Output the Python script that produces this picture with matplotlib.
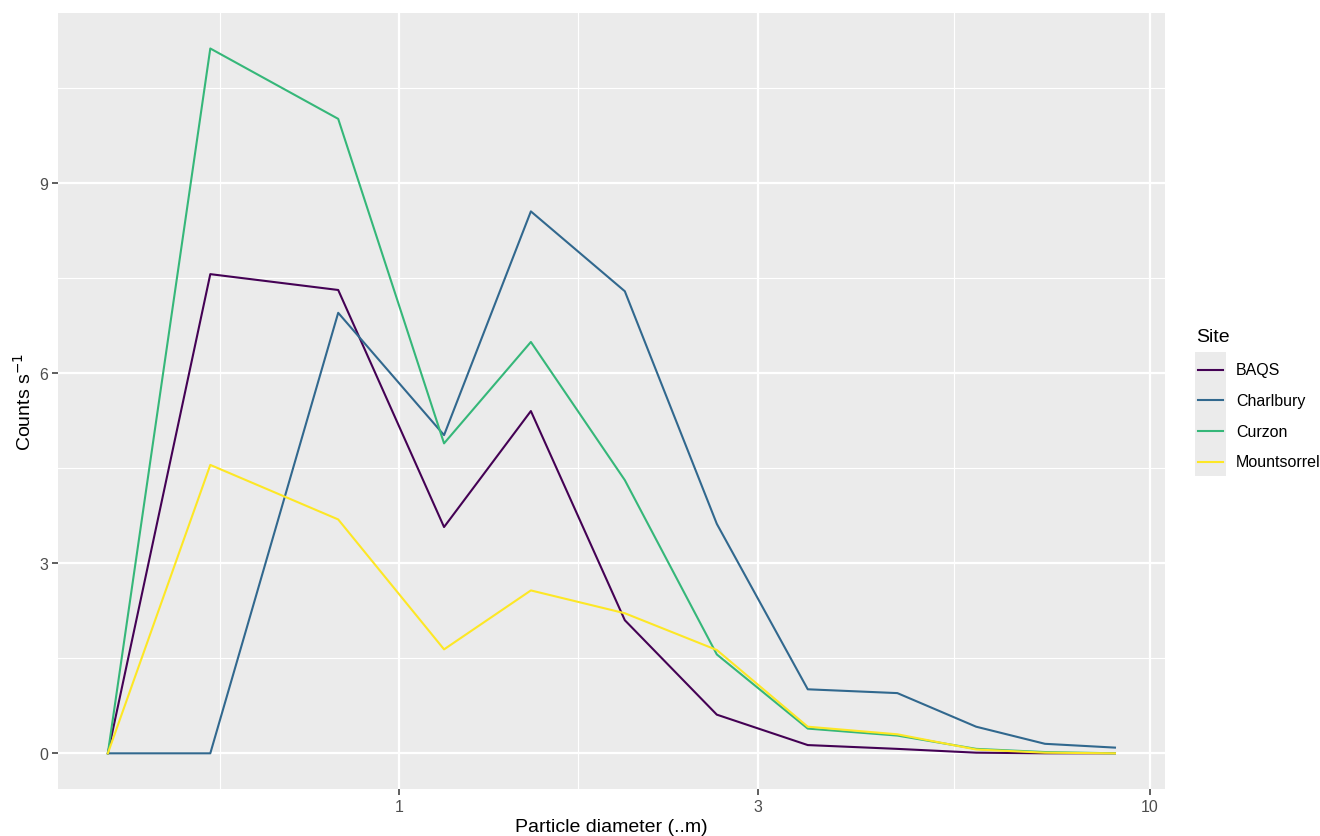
import matplotlib
matplotlib.use("Agg")
import matplotlib.pyplot as plt
from matplotlib.patches import Rectangle
from matplotlib.lines import Line2D

plt.rcParams["font.family"] = ["Liberation Sans", "DejaVu Sans"]

# particle diameter bins (um)
diameter = [0.409, 0.560, 0.829, 1.147, 1.497, 1.997, 2.648, 3.50, 4.607, 5.866, 7.245, 8.98]

sites = ["BAQS", "Charlbury", "Curzon", "Mountsorrel"]
baqs = [0, 7.56, 7.31, 3.57, 5.40, 2.10, 0.61, 0.13, 0.07, 0.01, 0.0, 0.0]
charlbury = [0, 0.0, 6.95, 5.02, 8.55, 7.29, 3.62, 1.01, 0.95, 0.42, 0.15, 0.09]
curzon = [0, 11.12, 10.01, 4.89, 6.49, 4.31, 1.56, 0.39, 0.28, 0.07, 0.02, 0.0]
mountsorrel = [0, 4.55, 3.69, 1.64, 2.57, 2.21, 1.63, 0.42, 0.30, 0.06, 0.01, 0.0]
colours = ["#440154", "#31688E", "#35B779", "#FDE725"]

W, H = 1320, 837
fig = plt.figure(figsize=(W / 100, H / 100), dpi=100)
ax = fig.add_axes([58 / W, 1 - 790 / H, 1107 / W, 776 / H])
ax.set_facecolor("#EBEBEB")

for name, vals, col in zip(sites, [baqs, charlbury, curzon, mountsorrel], colours):
    ax.plot(diameter, vals, color=col, lw=1.5, label=name, zorder=3)

ax.set_xscale("log")
ax.set_xlim(0.351, 10.47)
ax.set_ylim(-0.563, 11.68)

ax.set_xticks([1, 3, 10])
ax.set_xticklabels(["1", "3", "10"])
ax.set_xticks([10 ** -0.2386, 10 ** 0.2386, 10 ** 0.7386], minor=True)
ax.xaxis.set_minor_formatter(matplotlib.ticker.NullFormatter())
ax.set_yticks([0, 3, 6, 9])
ax.set_yticks([1.5, 4.5, 7.5, 10.5], minor=True)

ax.grid(which="major", color="white", lw=1.6)
ax.grid(which="minor", color="white", lw=0.8)
ax.set_axisbelow(True)
for s in ax.spines.values():
    s.set_visible(False)
ax.tick_params(which="major", length=4, width=1.1, color="#333333",
               labelcolor="#4D4D4D", labelsize=11.5, pad=3)
ax.tick_params(which="minor", length=0)

ax.set_xlabel("Particle diameter (..m)", fontsize=14, labelpad=3)
ax.set_ylabel("Counts s$^{-1}$", fontsize=14, labelpad=3)

# legend, drawn ggplot-style with grey key boxes
fig.text(1196 / W, 1 - 337 / H, "Site", fontsize=14, va="center", ha="left")
fig.patches.append(Rectangle((1195 / W, 1 - 477 / H), 31 / W, 124 / H,
                             transform=fig.transFigure, facecolor="#EBEBEB",
                             edgecolor="none"))
for i, (name, col) in enumerate(zip(sites, colours)):
    yc = 1 - (370.5 + 30.8 * i) / H
    fig.lines.append(Line2D([1198 / W, 1223 / W], [yc, yc], color=col, lw=1.5,
                            transform=fig.transFigure))
    fig.text(1236 / W, yc, name, fontsize=11.5, va="center", ha="left")

fig.savefig("out.png", dpi=100)
